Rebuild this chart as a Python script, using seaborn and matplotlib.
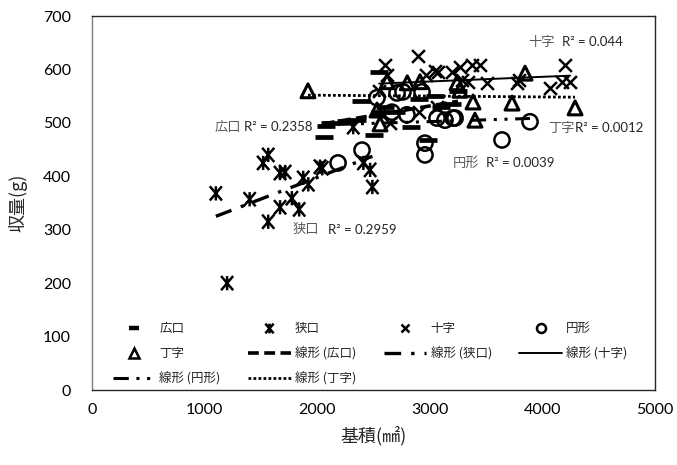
import numpy as np
import pandas as pd
import seaborn as sns
import matplotlib
matplotlib.use("Agg")
import matplotlib.pyplot as plt
from matplotlib.lines import Line2D
from matplotlib.path import Path

# ---- data ----
hiro_x = [2060, 2080, 2110, 2260, 2350, 2390, 2500, 2550, 2560, 2600, 2700, 2830, 2900, 2980, 3050, 3100, 3200, 3250]
hiro_y = [473, 495, 500, 503, 505, 540, 478, 595, 520, 530, 520, 492, 545, 468, 550, 530, 535, 560]

sema_x = [1100, 1200, 1400, 1520, 1565, 1565, 1670, 1715, 1670, 1775, 1840, 1876, 1921, 2045, 2025, 2320, 2410, 2470, 2490]
sema_y = [368, 200, 357, 425, 440, 315, 406, 408, 342, 359, 338, 397, 385, 415, 418, 492, 425, 412, 380]

juji_x = [2550, 2600, 2620, 2650, 2895, 2900, 2966, 3046, 3064, 3073, 3197, 3268, 3286, 3340, 3375, 3446, 3508, 3774, 3790, 4067, 4174, 4200, 4245]
juji_y = [560, 608, 590, 500, 625, 520, 590, 597, 530, 595, 595, 605, 580, 576, 608, 608, 575, 575, 580, 565, 576, 608, 576]

en_x = [2185, 2398, 2531, 2664, 2709, 2762, 2797, 2931, 2957, 2957, 3064, 3135, 3206, 3224, 3641, 3890]
en_y = [425, 449, 547, 520, 556, 558, 515, 558, 462, 440, 509, 505, 509, 509, 468, 502]

tei_x = [1918, 2531, 2558, 2620, 2800, 2913, 3242, 3268, 3384, 3401, 3730, 3846, 4290]
tei_y = [560, 524, 498, 577, 575, 577, 575, 561, 539, 505, 537, 593, 528]

names = ["広口", "狭口", "十字", "円形", "丁字"]
r2_labels = ["R² = 0.2358", "R² = 0.2959", "R² = 0.044", "R² = 0.0039", "R² = 0.0012"]
x_ticks = [0, 1000, 2000, 3000, 4000, 5000]
y_ticks = [0, 100, 200, 300, 400, 500, 600, 700]

sns.set_theme(style="white")
plt.rcParams['font.family'] = ['Noto Sans CJK JP', 'DejaVu Sans']

fig = plt.figure(figsize=(6.77, 4.65), dpi=100)
ax = fig.add_axes([92/677, 1-390/465, (655-92)/677, (390-16)/465])

# asterisk marker: an X plus a vertical bar
asterisk = Path([(-0.85, -1), (0.85, 1), (-0.85, 1), (0.85, -1), (0, -1), (0, 1)],
                [Path.MOVETO, Path.LINETO, Path.MOVETO, Path.LINETO, Path.MOVETO, Path.LINETO])

# scatter
sns.scatterplot(x=hiro_x, y=hiro_y, marker="_", s=160, color="black", linewidth=3.4, ax=ax, zorder=3)
sns.scatterplot(x=sema_x, y=sema_y, marker=asterisk, s=105, facecolor="none", edgecolor="black", linewidth=1.8, ax=ax, zorder=3)
sns.scatterplot(x=juji_x, y=juji_y, marker="x", s=85, color="black", linewidth=1.8, ax=ax, zorder=3)
sns.scatterplot(x=en_x, y=en_y, marker="o", s=120, facecolor="none", edgecolor="black", linewidth=1.8, ax=ax, zorder=3)
sns.scatterplot(x=tei_x, y=tei_y, marker="^", s=100, facecolor="none", edgecolor="black", linewidth=2.2, ax=ax, zorder=3)

# trend lines
styles = {
    "広口": dict(ls=(0, (3, 1.5)), lw=2.6),
    "狭口": dict(ls=(0, (5, 3, 1, 3)), lw=2.4),
    "十字": dict(ls="-", lw=1.4),
    "円形": dict(ls=(0, (5, 2.5, 1, 2.5, 1, 2.5)), lw=2.2),
    "丁字": dict(ls=(0, (1, 0.8)), lw=2.0),
}
datasets = {"広口": (hiro_x, hiro_y), "狭口": (sema_x, sema_y), "十字": (juji_x, juji_y),
            "円形": (en_x, en_y), "丁字": (tei_x, tei_y)}
for nm, (xs, ys) in datasets.items():
    st = styles[nm]
    sns.regplot(x=np.array(xs, float), y=np.array(ys, float), scatter=False, ci=None, truncate=True,
                color="black", line_kws=dict(linestyle=st["ls"], linewidth=st["lw"]), ax=ax)

ax.set_xlim(0, 5000)
ax.set_ylim(0, 700)
ax.set_xticks(x_ticks)
ax.set_yticks(y_ticks)
num_font = ["Lato", "DejaVu Sans"]
ax.set_xticklabels([str(v) for v in x_ticks], family=num_font, fontsize=11.5)
ax.set_yticklabels([str(v) for v in y_ticks], family=num_font, fontsize=11.5)
ax.tick_params(axis="x", length=0, pad=9, colors="black")
ax.tick_params(axis="y", length=0, pad=15, colors="black")
for sp in ax.spines.values():
    sp.set_color("#262626")
    sp.set_linewidth(1.0)
    sp.set_visible(True)
ax.spines["left"].set_color("#7f7f7f")
ax.set_xlabel("基積(㎟)", fontsize=13, labelpad=7)
ax.set_ylabel("収量(g)", fontsize=13, labelpad=11)

# R² annotations (name, x of name, y, x of R² text)
gray = "#595959"
ann = [("広口", 1092, 492, 1350), ("狭口", 1785, 300, 2096), ("十字", 3872, 651, 4174),
       ("円形", 3206, 425, 3499), ("丁字", 4050, 490, 4290)]
for (nm, xj, yy, xr), r2 in zip(ann, r2_labels):
    ax.text(xj, yy, nm, fontsize=9.5, color=gray, va="center", ha="left")
    ax.text(xr, yy, r2, fontsize=9.5, color="#262626", va="center", ha="left", family=["Lato", "DejaVu Sans"])

# legend
def mk(marker, ms, mew):
    return Line2D([], [], ls="none", marker=marker, markersize=ms, markeredgewidth=mew, color="black",
                  markerfacecolor="none")

h = {
    "広口": mk("_", 7, 3.2),
    "狭口": mk(asterisk, 7, 1.8),
    "十字": mk("x", 6, 1.8),
    "円形": mk("o", 6.5, 1.8),
    "丁字": mk("^", 6.5, 1.8),
}
for nm in names:
    st = styles[nm]
    h["線形 (" + nm + ")"] = Line2D([], [], color="black", linestyle=st["ls"], linewidth=st["lw"])
order = ["広口", "丁字", "線形 (円形)", "狭口", "線形 (広口)", "線形 (丁字)", "十字", "線形 (狭口)", "円形", "線形 (十字)"]
leg = ax.legend([h[k] for k in order], order, ncol=4, loc="lower left", bbox_to_anchor=(0.032, 0.005),
                borderaxespad=0, borderpad=0.2, frameon=False, fontsize=9, handlelength=3.4,
                columnspacing=2.2, labelspacing=0.95, handletextpad=0.35)

fig.savefig("out.png", dpi=100)
